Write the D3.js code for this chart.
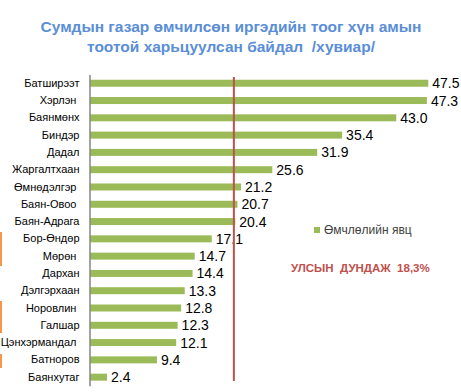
<!DOCTYPE html>
<html><head><meta charset="utf-8">
<script src="https://cdn.jsdelivr.net/npm/d3@7"></script>
<style>
html,body{margin:0;padding:0;background:#fff;}
svg{display:block;font-family:Arial,"Liberation Sans",sans-serif;}
svg text{white-space:pre;}
</style></head>
<body>
<svg id="chart" width="461" height="392"></svg>
<script>
const titleLines = ["Сумдын газар өмчилсөн иргэдийн тоог хүн амын", "тоотой харьцуулсан байдал  /хувиар/"];
const categories = ["Батширээт","Хэрлэн ","Баянмөнх","Биндэр","Дадал","Жаргалтхаан","Өмнөдэлгэр ","Баян-Овоо ","Баян-Адрага","Бор-Өндөр","Мөрөн ","Дархан","Дэлгэрхаан","Норовлин ","Галшар","Цэнхэрмандал ","Батноров","Баянхутаг"];
const values = [47.5,47.3,43.0,35.4,31.9,25.6,21.2,20.7,20.4,17.1,14.7,14.4,13.3,12.8,12.3,12.1,9.4,2.4];
const seriesName = "Өмчлөлийн явц";
const avgLabel = "УЛСЫН  ДУНДАЖ  18,3%";
const avgLineValue = 20.2;
const leftMarks = [[232,266],[301,333],[354,368]];

const svg = d3.select("#chart");
const x = d3.scaleLinear().domain([0, 47.5]).range([90, 428.3]);
const y = d3.scaleBand().domain(categories).range([74.6, 385.8]).paddingInner(0.595).paddingOuter(0.2975);

// title
svg.append("text").attr("x", 231).attr("y", 32).attr("text-anchor","middle")
  .attr("font-size", 15.5).attr("font-weight","bold").attr("fill","#5A8ED6").text(titleLines[0]);
svg.append("text").attr("x", 231).attr("y", 52).attr("text-anchor","middle")
  .attr("font-size", 15.5).attr("font-weight","bold").attr("fill","#5A8ED6").text(titleLines[1]);

// orange marks on left edge
svg.selectAll("line.mark").data(leftMarks).enter().append("line")
  .attr("x1",1).attr("x2",1).attr("y1",d=>d[0]).attr("y2",d=>d[1])
  .attr("stroke","#F79646").attr("stroke-width",2);

// bars
svg.selectAll("rect.bar").data(values).enter().append("rect")
  .attr("class","bar")
  .attr("x", x(0))
  .attr("y", (d,i)=>y(categories[i]))
  .attr("width", d=>x(d)-x(0))
  .attr("height", y.bandwidth())
  .attr("fill","#9BBB59");

// value labels
svg.selectAll("text.val").data(values).enter().append("text")
  .attr("x", d=>x(d)+4)
  .attr("y", (d,i)=>y(categories[i]) + y.bandwidth()/2 + 5)
  .attr("font-size", 14).attr("fill","#000")
  .text(d=>d.toFixed(1));

// axis
const axis = svg.append("g").attr("class","cat").attr("transform", `translate(${x(0)-0.5},0)`)
  .call(d3.axisLeft(y).tickSize(0).tickPadding(10));
axis.select(".domain").attr("stroke","#868686").attr("stroke-width",1.5);
axis.selectAll("text").attr("font-size",11).attr("fill","#000").attr("font-family","Arial,'Liberation Sans',sans-serif");

// average reference line
svg.append("line").attr("x1", x(avgLineValue)).attr("x2", x(avgLineValue))
  .attr("y1", 77).attr("y2", 381).attr("stroke","#C0504D").attr("stroke-width",2);

// legend
svg.append("rect").attr("x",314).attr("y",227).attr("width",6).attr("height",6).attr("fill","#9BBB59");
svg.append("text").attr("x",324).attr("y",234).attr("font-size",12).attr("fill","#404040").text(seriesName);

// average label
svg.append("text").attr("x",291).attr("y",272).attr("font-size",11.5).attr("font-weight","bold")
  .attr("fill","#C0504D").text(avgLabel);
</script>
</body></html>
